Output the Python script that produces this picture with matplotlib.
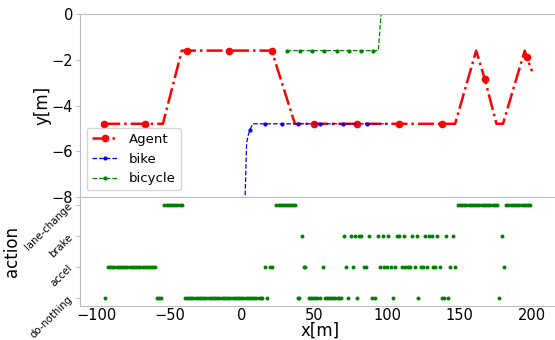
import numpy as np
import matplotlib
matplotlib.use('Agg')
import matplotlib.pyplot as plt
from matplotlib.lines import Line2D

# agent trajectory (corner points + marker points)
agent_x = [-95, -67, -54.5, -41.5, -38, -9, 20.5, 36.5, 49.5, 79, 108.5, 138,
           147, 161.5, 167.5, 175.5, 180, 195, 196.5, 200]
agent_y = [-4.8, -4.8, -4.8, -1.6, -1.6, -1.6, -1.6, -4.8, -4.8, -4.8, -4.8, -4.8,
           -4.8, -1.6, -2.85, -4.8, -4.8, -1.6, -1.9, -2.5]
agent_marks = [0, 1, 4, 5, 6, 8, 9, 10, 11, 14, 18]

bike_x = [1.95, 3.2, 4.3, 5.5, 7.4, 15.9, 27.4, 38.9, 53.8, 69.9, 86.0, 100.5]
bike_y = [-8.5, -5.65, -5.3, -5.07, -4.8, -4.8, -4.8, -4.8, -4.8, -4.8, -4.8, -4.8]
bike_marks = [3, 5, 6, 7, 8, 9, 10]

bicycle_x = [30.8, 40.0, 48.0, 56.8, 65.3, 73.8, 81.9, 90.1, 94.0, 96.3]
bicycle_y = [-1.6, -1.6, -1.6, -1.6, -1.6, -1.6, -1.6, -1.6, -1.6, 0.3]
bicycle_marks = [0, 1, 2, 3, 4, 5, 6, 7]

# actions taken by the agent, by x position
actions = ['do-nothing', 'accel', 'brake', 'lane-change']

x_nothing = [-94.5, -58.4, -57.0, -55.6,
             -39.5, -38.0, -36.5, -35.0, -33.5, -32.0, -30.5, -29.0, -27.5, -26.0,
             -24.5, -23.0, -21.5, -20.0, -18.5, -17.0, -15.5, -14.0, -12.5, -11.0,
             -9.5, -8.0, -6.5, -5.0, -3.5, -2.0, -0.5, 1.0, 2.5, 4.0, 5.5, 7.0,
             8.5, 10.0, 11.5, 13.0, 14.0,
             17.6, 38.4, 39.3, 46.0, 47.5, 49.0, 50.5, 52.0, 53.6,
             57.4, 58.9, 60.3, 61.7, 63.1, 64.5, 65.9, 67.2, 68.5,
             73.4, 79.4, 89.8, 91.4, 104.3, 121.7, 137.7, 139.0, 142.3, 177.4]
x_accel = [-92.5, -91.0, -89.5, -88.0, -86.5, -85.0, -83.5, -82.0, -80.5, -79.0,
           -77.5, -76.0, -74.5, -73.0, -71.5, -70.0, -68.5, -67.0, -65.5, -64.0,
           -62.5, -61.0, -59.8,
           16.1, 19.5, 21.0, 42.8, 43.8, 55.6, 71.7, 76.3, 84.2, 85.8, 95.2, 98.2,
           99.8, 102.5, 105.8, 110.1, 112.5, 114.3, 116.2, 119.0, 123.2, 124.8,
           127.6, 131.7, 133.4, 136.6, 143.8, 146.9, 180.5]
x_brake = [41.1, 70.5, 75.1, 77.8, 80.6, 82.0, 87.8, 94.0, 97.2, 101.0, 107.2,
           108.6, 111.4, 117.6, 120.5, 126.2, 129.0, 130.8, 134.8, 140.8, 145.4,
           179.1]
x_lane = [-53.5, -52.0, -50.5, -49.0, -47.5, -46.0, -44.5, -43.0, -41.5,
          23.7, 25.2, 26.7, 28.1, 29.6, 31.0, 32.4, 33.8, 35.0, 36.3,
          148.8, 150.3, 151.8, 153.3, 154.8, 156.3, 157.8, 159.3, 160.8, 162.3,
          163.8, 165.3, 166.8, 168.3, 169.8, 171.3, 172.8, 174.3, 175.8,
          182.3, 183.8, 185.3, 186.8, 188.3, 189.8, 191.3, 192.8, 194.3, 195.8,
          197.3, 198.8]

spine_col = '#bdbdbd'

fig = plt.figure(figsize=(5.55, 3.4), dpi=100)
ax1 = fig.add_axes([0.1441, 0.4206, 0.8667, 0.5382])
ax2 = fig.add_axes([0.1441, 0.1, 0.8667, 0.3206], sharex=ax1)

ax1.plot(agent_x, agent_y, 'r-.', lw=1.8, marker='o', ms=4.5,
         markevery=agent_marks)
ax1.plot(bike_x, bike_y, 'b--', lw=0.9, marker='.', ms=4,
         markevery=bike_marks)
ax1.plot(bicycle_x, bicycle_y, 'g--', lw=0.9, marker='.', ms=4,
         markevery=bicycle_marks)
handles = [Line2D([], [], color='r', ls='-.', lw=1.8, marker='o', ms=4.5),
           Line2D([], [], color='b', ls='--', lw=0.9, marker='.', ms=4),
           Line2D([], [], color='g', ls='--', lw=0.9, marker='.', ms=4)]
ax1.legend(handles, ['Agent', 'bike', 'bicycle'], loc='lower left',
           fontsize=9.5, numpoints=1)
ax1.set_ylim(-8, 0)
ax1.set_yticks([0, -2, -4, -6, -8])
ax1.set_ylabel('y[m]', fontsize=12, labelpad=0)
ax1.tick_params(axis='x', bottom=False, labelbottom=False)

for k, xs in enumerate([x_nothing, x_accel, x_brake, x_lane]):
    ax2.scatter(xs, np.full(len(xs), k), s=8, color='g', lw=0, zorder=3)
ax2.set_ylim(-0.26, 3.26)
ax2.set_yticks(range(len(actions)))
ax2.set_yticklabels(actions, rotation=45, fontsize=7.3)
ax2.set_ylabel('action', fontsize=12, labelpad=2)
ax2.set_xlim(-111.7, 220)
ax2.set_xticks([-100, -50, 0, 50, 100, 150, 200])

for ax in (ax1, ax2):
    for s in ax.spines.values():
        s.set_color(spine_col)
    ax.tick_params(color=spine_col, labelsize=10.5, length=3, pad=2)
ax2.tick_params(axis='y', labelsize=7.3, pad=1)
ax2.tick_params(axis='x', length=0, pad=1.5)
ax2.set_xlabel('x[m]', fontsize=12, labelpad=-1)

fig.savefig('out.png', dpi=100)
